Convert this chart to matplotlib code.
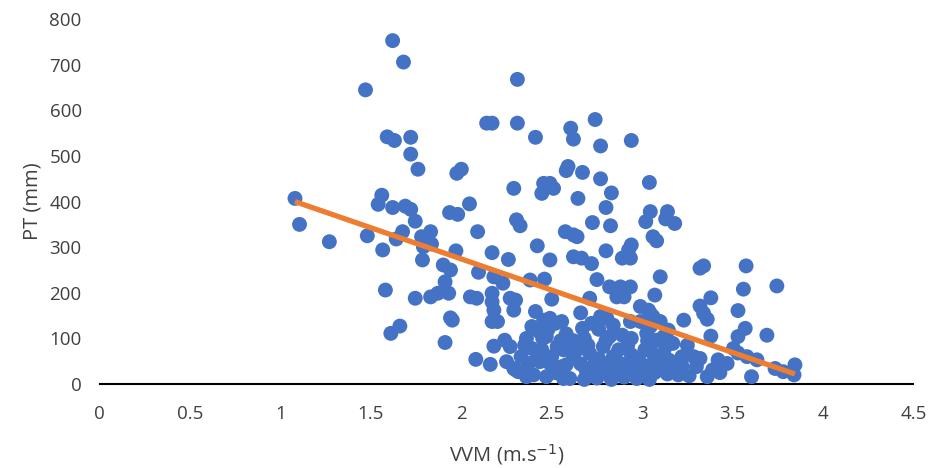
import numpy as np
import matplotlib
matplotlib.use('Agg')
import matplotlib.pyplot as plt

# VVM (m/s) vs PT (mm)
vvm = [
    1.08, 1.105, 1.27, 1.47, 1.62, 1.68, 1.59, 1.63, 1.72, 1.72, 1.76, 1.56, 1.54,
    1.62, 1.69, 1.72, 1.745, 1.48, 1.565, 1.675, 1.64, 1.78, 1.785, 1.83, 1.58,
    1.745, 1.83, 1.61, 1.66, 1.79, 1.835, 1.90, 1.94, 1.97, 1.91, 1.93, 1.87,
    1.935, 1.98, 1.975, 2.00, 2.045, 1.95, 1.94, 1.91, 2.08, 2.09,
    2.14, 2.17, 2.31, 2.31, 2.41, 2.29, 2.455, 2.445, 2.305, 2.325, 2.42, 2.49,
    2.17, 2.26, 2.095, 2.18, 2.23, 2.05, 2.085, 2.17, 2.17, 2.18, 2.17, 2.20,
    2.27, 2.30, 2.29, 2.16, 2.18, 2.24, 2.27, 2.25, 2.30, 2.36, 2.29, 2.315,
    2.41, 2.455, 2.38, 2.46, 2.50, 2.49, 2.555, 2.39, 2.43, 2.36, 2.47, 2.39,
    2.445, 2.53, 2.565, 2.37, 2.435, 2.49, 2.555, 2.40, 2.47, 2.565,
    2.74, 2.605, 2.62, 2.77, 2.94, 2.59, 2.58, 2.67, 2.77, 3.04, 2.49, 2.51,
    2.645, 2.83, 2.80, 3.045, 3.02, 3.14, 3.13, 3.18, 2.725, 2.825, 2.575, 2.62,
    2.64, 3.06, 3.08, 2.94, 2.925, 2.89, 2.935, 2.80, 2.62, 2.665, 2.72, 3.10,
    2.75, 2.82, 2.88, 2.935, 2.90, 2.86, 3.07, 2.71, 2.99, 3.035, 2.66, 2.52,
    2.77, 2.805, 2.67, 2.76, 2.84, 2.935, 2.99, 3.045, 3.10, 3.145, 2.89, 2.94,
    3.025, 2.72, 2.82, 2.64, 2.71, 2.785, 2.87, 2.94, 3.015, 3.06,
    2.58, 2.66, 2.73, 2.80, 2.88, 2.95, 3.025, 2.60, 2.68, 2.75, 2.83, 2.90,
    2.97, 3.04, 3.06,
    3.32, 3.34, 3.575, 3.56, 3.745, 3.38, 3.32, 3.34, 3.36, 3.53, 3.23, 3.57,
    3.53, 3.38, 3.69, 3.12, 3.505, 3.58, 3.635, 3.735, 3.78, 3.845, 3.84, 3.605,
    3.42, 3.47, 3.39, 3.36, 3.285, 3.32, 3.08, 3.13, 3.17, 3.045, 3.09, 3.15,
    3.22, 3.07, 3.14, 3.20, 3.26, 3.43, 3.53,
    # dense bottom cluster
    2.50, 2.52, 2.55, 2.62, 2.62, 2.69, 2.70, 2.76, 2.78, 2.84, 2.86, 2.92,
    2.93, 2.98, 3.00, 2.45, 2.42, 2.33, 2.35, 3.10, 3.18, 3.12, 3.22, 3.30,
    3.25, 3.03, 2.48, 2.58, 2.68, 2.80,
]
pt = [
    407, 350, 312, 645, 753, 706, 542, 534, 541, 504, 471, 414, 394,
    387, 390, 383, 357, 325, 294, 334, 318, 323, 272, 334, 206,
    188, 191, 111, 127, 301, 307, 261, 250, 292, 224, 199, 199,
    376, 372, 462, 471, 395, 140, 145, 91, 54, 334,
    572, 572, 572, 668, 541, 429, 440, 418, 360, 347, 303, 272,
    288, 273, 245, 235, 221, 191, 188, 199, 180, 162, 137, 137,
    188, 184, 162, 43, 83, 96, 82, 49, 31, 16, 34, 27,
    159, 140, 228, 230, 186, 144, 137, 126, 115, 100, 104, 78,
    75, 82, 75, 45, 49, 45, 38, 20, 16, 12,
    580, 561, 537, 522, 534, 477, 468, 464, 450, 442, 440, 429,
    407, 419, 387, 378, 356, 378, 362, 352, 354, 347, 334, 327,
    323, 323, 314, 305, 294, 276, 276, 292, 279, 276, 264, 235,
    229, 213, 213, 213, 191, 191, 195, 188, 170, 162, 156, 133,
    148, 144, 122, 120, 129, 137, 137, 126, 137, 118, 107, 100,
    111, 133, 104, 75, 67, 82, 75, 64, 75, 67,
    42, 44, 40, 42, 45, 42, 40, 12, 10, 13, 10, 15,
    12, 10, 148,
    254, 259, 259, 208, 215, 189, 171, 155, 142, 161, 140, 122,
    104, 105, 107, 104, 78, 60, 53, 34, 27, 42, 20, 16,
    53, 45, 31, 16, 60, 56, 96, 82, 89, 155, 55, 52,
    60, 25, 22, 20, 18, 25, 68,
    60, 25, 95, 58, 95, 30, 85, 55, 28, 60, 28, 85,
    30, 55, 25, 100, 60, 60, 85, 45, 35, 65, 40, 38,
    85, 95, 120, 110, 100, 95,
]

# linear trend line as shown on the chart
trend_slope = -136.7
trend_intercept = 547.6

x_ticks = [0, 0.5, 1, 1.5, 2, 2.5, 3, 3.5, 4, 4.5]
x_tick_labels = ['0', '0.5', '1', '1.5', '2', '2.5', '3', '3.5', '4', '4.5']
y_ticks = [0, 100, 200, 300, 400, 500, 600, 700, 800]

plt.rcParams['font.family'] = ['Open Sans', 'DejaVu Sans']

fig = plt.figure(figsize=(9.32, 4.68), dpi=100)
ax = fig.add_axes([0.107, 0.1795, 0.873, 0.7795])

ax.scatter(vvm, pt, s=115, color='#4472C4', edgecolors='none', zorder=3, clip_on=False)

xs = np.array([min(vvm), max(vvm)])
ax.plot(xs, trend_slope * xs + trend_intercept, color='#ED7D31', linewidth=3.8,
        solid_capstyle='butt', zorder=4)

ax.set_xlim(0, 4.5)
ax.set_ylim(0, 800)
ax.set_xticks(x_ticks)
ax.set_xticklabels(x_tick_labels)
ax.set_yticks(y_ticks)
ax.tick_params(axis='both', length=0, labelsize=13.5, colors='#404040')
ax.tick_params(axis='x', pad=15)
ax.tick_params(axis='y', pad=13)

for side in ['top', 'right', 'left']:
    ax.spines[side].set_visible(False)
ax.spines['bottom'].set_color('#000000')
ax.spines['bottom'].set_linewidth(1.5)
ax.spines['bottom'].set_zorder(2)

ax.set_xlabel('VVM (m.s$^{-1}$)', fontsize=14.5, color='#404040', labelpad=14)
ax.set_ylabel('PT (mm)', fontsize=14.5, color='#404040', labelpad=5)

fig.savefig('out.png', dpi=100)
